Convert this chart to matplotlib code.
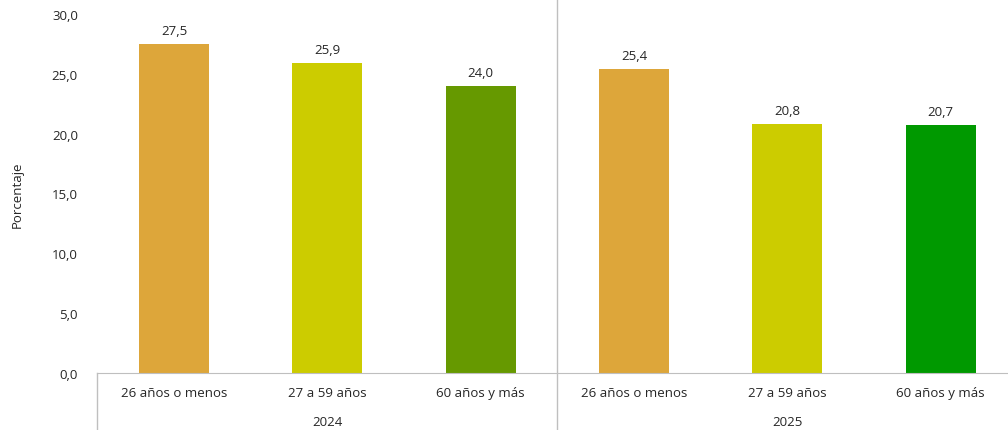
import matplotlib.pyplot as plt
import numpy as np
from matplotlib.lines import Line2D
from matplotlib.transforms import blended_transform_factory

plt.rcParams['font.family'] = ['Open Sans', 'DejaVu Sans']

# Data
years = ['2024', '2025']
groups = ['26 años o menos', '27 a 59 años', '60 años y más']
values = [27.5, 25.9, 24.0, 25.4, 20.8, 20.7]
colors = ['#DDA63A', '#CCCC00', '#669900', '#DDA63A', '#CCCC00', '#009900']
yticks = [0, 5, 10, 15, 20, 25, 30]

fmt = lambda v: f'{v:.1f}'.replace('.', ',')
grid_color = '#BFBFBF'
text_color = '#262626'
fs = 9.5

fig = plt.figure(figsize=(10.08, 4.31), dpi=100)
ax = fig.add_axes([0.0966, 0.1323, 0.9127, 0.8329])

x = np.arange(len(values))
bars = ax.bar(x, values, width=0.457, color=colors)
for xi, v in zip(x, values):
    ax.annotate(fmt(v), (xi, v), xytext=(0, 5), textcoords='offset points',
                ha='center', va='bottom', fontsize=fs, color=text_color)

ax.set_xlim(-0.5, len(values) - 0.5)
ax.set_ylim(0, 30)
ax.set_yticks(yticks)
ax.set_yticklabels([fmt(t) for t in yticks], fontsize=fs, color=text_color)
ax.tick_params(axis='y', length=0, pad=14)
ax.set_xticks([])
for s in ['top', 'right', 'left']:
    ax.spines[s].set_visible(False)
ax.spines['bottom'].set_color(grid_color)
ax.set_ylabel('Porcentaje', fontsize=fs, color=text_color, labelpad=20)

# category labels
tr = blended_transform_factory(ax.transData, fig.transFigure)
for i, v in enumerate(values):
    fig.text(x[i], 1 - 394 / 431, groups[i % 3], transform=tr,
             ha='center', va='center', fontsize=fs, color=text_color)
for j, yr in enumerate(years):
    fig.text(3 * j + 1, 1 - 423 / 431, yr, transform=tr,
             ha='center', va='center', fontsize=fs, color=text_color)

# separator lines
bottom_y = 0.1323
fig.add_artist(Line2D([-0.5, -0.5], [0, bottom_y], transform=tr, color=grid_color, lw=1))
fig.add_artist(Line2D([2.5, 2.5], [0, 1], transform=tr, color=grid_color, lw=1))

fig.savefig('out.png', dpi=100)
